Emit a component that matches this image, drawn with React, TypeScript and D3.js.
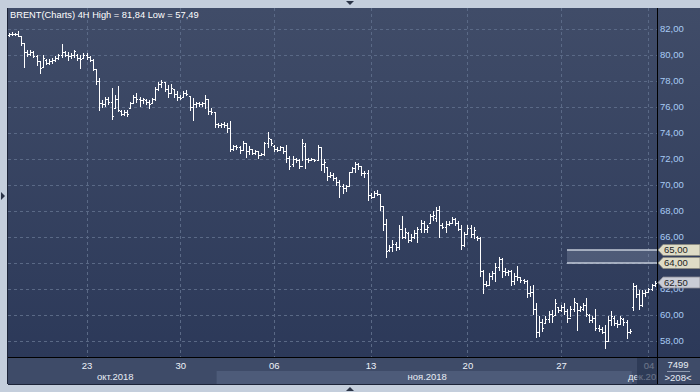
import React from 'react';
import * as d3 from 'd3';

const opens = [
  81.55, 81.65, 81.6, 81.6, 81.45, 80.9, 80.2, 80.1, 80.2, 79.95,
  79.5, 79.1, 79.6, 79.4, 79.5, 79.6, 79.75, 80.0, 80.2, 80.0,
  79.9, 80.0, 80.0, 79.8, 79.8, 80.0, 79.85, 79.6, 78.9, 78.0,
  76.3, 76.2, 76.6, 76.4, 75.9, 76.6, 75.7, 75.5, 75.6, 75.9,
  76.3, 76.8, 76.6, 76.5, 76.5, 76.4, 76.3, 76.6, 77.4, 77.8,
  77.9, 77.4, 77.1, 77.4, 77.0, 76.8, 76.8, 77.1, 76.85, 76.0,
  76.2, 76.3, 76.2, 76.3, 76.6, 75.7, 75.6, 74.7, 74.6, 74.7,
  74.6, 74.4, 72.8, 73.0, 72.9, 72.7, 73.2, 72.6, 72.8, 72.5,
  72.6, 72.3, 72.4, 73.2, 73.5, 73.0, 72.8, 72.7, 72.9, 72.6,
  72.1, 71.6, 72.0, 71.9, 71.5, 73.0, 72.0, 71.9, 72.0, 71.95,
  72.9, 71.6, 71.4, 70.7, 70.8, 70.5, 70.2, 69.9, 69.8, 69.9,
  71.0, 71.3, 71.6, 71.5, 70.9, 70.9, 69.2, 69.1, 69.4, 69.3,
  68.4, 67.0, 65.0, 65.2, 65.5, 65.2, 66.6, 66.0, 66.3, 65.8,
  66.0, 66.3, 66.6, 67.1, 66.6, 67.1, 67.6, 67.5, 68.1, 66.9,
  66.8, 67.0, 67.1, 67.4, 67.1, 66.6, 65.4, 66.2, 66.7, 66.2,
  66.0, 65.9, 63.4, 62.4, 62.3, 63.0, 63.2, 63.7, 64.3, 63.4,
  63.3, 63.4, 62.6, 63.0, 62.9, 62.7, 62.6, 61.7, 61.8, 60.5,
  58.7, 59.5, 59.4, 59.7, 60.1, 60.0, 60.6, 60.4, 60.6, 60.3,
  59.8, 60.5, 60.9, 60.4, 60.5, 60.8, 60.0, 59.6, 59.8, 59.0,
  58.9, 58.7, 58.0, 59.6, 59.8, 59.4, 59.3, 59.7, 59.5, 58.7,
  60.6, 62.2, 61.6, 60.8, 61.7, 61.8, 62.0, 62.3,
];
const highs = [
  81.7, 81.78, 81.7, 81.84, 81.5, 80.95, 80.35, 80.4, 80.3, 80.0,
  79.5, 80.0, 79.7, 79.7, 79.75, 79.9, 80.1, 80.85, 80.3, 80.2,
  80.15, 80.4, 80.1, 80.0, 80.15, 80.15, 79.9, 79.7, 78.9, 78.2,
  76.5, 76.8, 76.8, 77.5, 76.9, 77.6, 75.8, 75.8, 75.8, 76.4,
  76.9, 77.05, 76.8, 76.7, 76.6, 76.55, 76.7, 77.55, 77.95, 78.1,
  77.95, 77.7, 77.8, 77.4, 77.2, 76.9, 77.25, 77.3, 76.85, 76.7,
  76.4, 76.4, 76.35, 76.9, 76.6, 75.9, 75.6, 74.8, 74.8, 74.85,
  74.75, 74.95, 73.1, 73.1, 73.0, 73.35, 73.2, 73.0, 72.8, 72.7,
  72.6, 72.5, 73.3, 74.1, 73.5, 73.1, 72.95, 73.0, 72.9, 73.1,
  72.2, 72.2, 72.1, 72.0, 73.5, 73.2, 72.1, 72.05, 72.0, 73.05,
  72.95, 72.0, 71.4, 71.0, 70.9, 70.6, 70.4, 70.1, 70.0, 71.0,
  71.4, 71.8, 71.7, 71.5, 71.1, 71.15, 69.4, 69.5, 69.6, 69.2,
  68.4, 67.4, 65.4, 65.8, 65.6, 66.9, 67.6, 66.7, 66.4, 66.2,
  66.5, 66.8, 67.3, 67.2, 66.9, 67.8, 68.0, 68.3, 68.35, 67.1,
  67.2, 67.2, 67.55, 67.45, 67.2, 66.9, 66.4, 66.9, 66.9, 66.8,
  66.1, 66.0, 63.5, 62.6, 63.2, 63.4, 64.0, 64.5, 64.4, 63.6,
  63.5, 63.5, 63.2, 63.8, 62.95, 62.8, 62.7, 62.2, 62.3, 60.9,
  59.9, 59.7, 59.9, 60.3, 60.4, 61.2, 60.6, 60.8, 60.9, 60.5,
  60.7, 61.3, 60.9, 60.7, 60.9, 61.3, 60.1, 59.9, 60.5, 59.2,
  59.1, 59.2, 59.9, 60.3, 59.9, 59.6, 59.9, 59.8, 59.6, 58.9,
  62.45, 62.3, 61.9, 61.9, 61.9, 62.1, 62.4, 62.6,
];
const lows = [
  81.5, 81.55, 81.55, 81.45, 80.75, 79.1, 79.9, 80.0, 79.85, 79.2,
  78.65, 79.1, 79.3, 79.3, 79.35, 79.5, 79.7, 79.85, 79.9, 79.6,
  79.75, 79.85, 79.6, 79.0, 79.8, 79.7, 79.5, 78.85, 77.8, 75.8,
  76.0, 76.1, 76.2, 75.1, 75.9, 75.7, 75.4, 75.4, 75.3, 75.9,
  76.3, 76.4, 76.1, 76.3, 76.25, 75.9, 76.3, 76.55, 77.3, 77.55,
  77.2, 76.8, 77.05, 76.8, 76.55, 76.65, 76.8, 76.9, 75.8, 75.0,
  76.0, 76.1, 76.1, 75.9, 75.5, 75.5, 74.5, 74.5, 74.5, 74.5,
  74.1, 72.6, 72.7, 72.8, 72.45, 72.7, 72.15, 72.4, 72.4, 72.4,
  72.1, 72.3, 72.3, 72.95, 73.1, 72.6, 72.6, 72.7, 72.5, 71.8,
  71.2, 71.5, 71.8, 71.3, 71.9, 71.3, 71.8, 71.9, 71.85, 71.9,
  71.15, 71.0, 70.4, 70.6, 70.4, 70.0, 69.1, 69.4, 69.5, 69.9,
  71.0, 71.0, 71.2, 70.8, 70.6, 68.85, 69.0, 69.1, 69.2, 68.1,
  66.5, 64.5, 64.9, 64.9, 65.0, 65.1, 65.9, 65.9, 65.6, 65.7,
  65.9, 65.6, 66.4, 66.4, 66.4, 67.05, 67.3, 67.2, 66.0, 66.7,
  66.4, 66.9, 67.05, 66.9, 66.5, 65.1, 65.3, 66.2, 66.0, 65.9,
  65.8, 63.0, 61.7, 62.2, 62.3, 62.8, 62.6, 63.5, 62.95, 63.1,
  63.1, 62.3, 62.4, 62.7, 62.55, 62.5, 61.4, 61.5, 60.1, 58.3,
  58.4, 58.8, 59.4, 59.5, 59.5, 60.1, 60.2, 60.3, 60.1, 59.5,
  59.9, 60.3, 58.85, 60.3, 60.4, 59.9, 59.5, 59.5, 58.85, 58.8,
  58.6, 57.49, 58.0, 59.2, 59.2, 59.1, 59.4, 59.2, 58.2, 58.6,
  60.4, 61.4, 60.5, 60.7, 61.5, 61.8, 61.9, 62.2,
];
const closes = [
  81.65, 81.6, 81.62, 81.5, 80.9, 80.2, 80.1, 80.2, 79.95, 79.5,
  79.0, 79.8, 79.4, 79.55, 79.6, 79.8, 80.0, 80.2, 80.0, 79.9,
  80.0, 80.3, 79.8, 79.7, 80.0, 79.85, 79.6, 78.95, 78.0, 76.3,
  76.2, 76.6, 76.4, 75.3, 76.6, 75.8, 75.5, 75.6, 75.5, 76.3,
  76.8, 76.6, 76.5, 76.6, 76.4, 76.2, 76.6, 77.4, 77.8, 77.9,
  77.4, 77.1, 77.5, 77.0, 76.8, 76.7, 77.1, 77.0, 76.0, 76.2,
  76.3, 76.2, 76.3, 76.6, 75.7, 75.6, 74.7, 74.6, 74.7, 74.6,
  74.4, 72.8, 73.0, 72.9, 72.7, 73.2, 72.6, 72.8, 72.5, 72.6,
  72.3, 72.4, 73.2, 73.6, 73.2, 72.8, 72.7, 72.9, 72.6, 72.1,
  71.5, 72.0, 71.9, 71.5, 73.2, 72.0, 71.9, 72.0, 71.9, 72.9,
  71.6, 71.8, 70.7, 70.8, 70.5, 70.2, 69.9, 69.8, 69.9, 71.0,
  71.3, 71.6, 71.5, 70.9, 70.9, 69.2, 69.1, 69.4, 69.3, 68.4,
  67.0, 64.9, 65.2, 65.5, 65.2, 66.6, 66.0, 66.4, 65.8, 66.0,
  66.3, 66.6, 67.1, 66.6, 66.8, 67.6, 67.7, 68.1, 66.9, 66.8,
  67.0, 67.1, 67.4, 67.1, 66.6, 65.4, 66.2, 66.7, 66.2, 66.5,
  65.9, 63.4, 62.4, 62.3, 63.0, 63.2, 63.7, 64.3, 63.4, 63.3,
  63.4, 62.6, 63.0, 62.9, 62.7, 62.6, 61.7, 61.8, 60.5, 58.7,
  59.5, 59.0, 59.7, 60.1, 59.9, 60.9, 60.4, 60.6, 60.3, 59.8,
  60.5, 61.0, 60.4, 60.6, 60.8, 60.1, 59.6, 59.8, 59.0, 58.9,
  58.7, 58.0, 59.6, 59.9, 59.4, 59.3, 59.8, 59.5, 58.7, 58.8,
  62.2, 61.6, 60.8, 61.7, 61.8, 62.0, 62.3, 62.5,
];

const tickIndex = [25, 55, 85, 116, 147, 177, 205];
const tickLabels = ['23', '30', '06', '13', '20', '27', '04'];
const monthStart = [0, 67, 200];
const monthLabels = ['окт.2018', 'ноя.2018', 'дек.2018'];
const priceTicks = [58, 60, 62, 64, 66, 68, 70, 72, 74, 76, 78, 80, 82];
const levelLines = [65, 64];
const lastPrice = 62.5;
const title = 'BRENT(Charts) 4H High = 81,84 Low = 57,49';
const barCount = '7499';
const visibleBars = '>208<';

const FONT = '"Liberation Sans", Arial, sans-serif';

export default function App() {
  const W = 700, H = 392;
  const plotL = 8, plotR = 657, plotT = 8, plotB = 357, axB = 384;
  const x = d3.scaleLinear().domain([0, opens.length - 1]).range([9, 655.2]);
  const y = d3.scaleLinear().domain([58, 82]).range([341, 29]);
  const fmt = (v: number) => d3.format('.2f')(v).replace('.', ',');

  const barPath = opens.map((o, i) => {
    const fx = Math.floor(x(i));
    const cx = fx + 0.5;
    const yh = Math.round(y(highs[i]));
    const yl = Math.round(y(lows[i]));
    const yo = Math.round(y(o)) + 0.5;
    const yc = Math.round(y(closes[i])) + 0.5;
    return `M${cx},${yh}V${yl + 1}M${fx - 1},${yo}H${fx + 1}M${fx},${yc}H${fx + 2}`;
  }).join('');

  const monthEdges = monthStart.map((s, k) => {
    const a = k === 0 ? plotL : x(s - 0.5);
    const b = k === monthStart.length - 1 ? plotR : x(monthStart[k + 1] - 0.5);
    return [a, b];
  });

  const tag = (v: number) => {
    const yy = y(v);
    return `M658,${yy}L663,${yy - 5.5}H700V${yy + 5.5}H663Z`;
  };

  const axisTicks = priceTicks.filter(v => !levelLines.includes(v));

  return (
    <svg width={W} height={H} style={{ position: 'absolute', left: 0, top: 0 }} fontFamily={FONT}>
      <defs>
        <linearGradient id="bg" x1="0" y1="0" x2="0" y2="1">
          <stop offset="0" stopColor="#404c68" />
          <stop offset="1" stopColor="#2c3959" />
        </linearGradient>
        <clipPath id="axclip">
          <rect x={plotL} y={plotB} width={plotR - plotL} height={axB - plotB} />
        </clipPath>
        <clipPath id="lbl62">
          <rect x={658} y={y(lastPrice) + 5.5} width={42} height={20} />
        </clipPath>
      </defs>
      <rect x={0} y={0} width={W} height={H} fill="#c4cedc" />
      <rect x={plotL} y={plotT} width={W - plotL} height={plotB - plotT} fill="url(#bg)" />
      <rect x={plotL} y={plotB} width={W - plotL} height={axB - plotB} fill="#3e4b68" />
      {monthEdges.map(([a, b], k) => k % 2 === 1 ? (
        <rect key={k} x={a} y={371} width={b - a} height={axB - 371} fill="#4d5b79" />
      ) : null)}
      {/* grid */}
      {priceTicks.map(v => (
        <line key={v} x1={plotL} x2={plotR} y1={Math.round(y(v)) + 0.5} y2={Math.round(y(v)) + 0.5}
          stroke="#5a6986" strokeDasharray="3,3" />
      ))}
      {tickIndex.map(t => (
        <line key={t} x1={Math.floor(x(t)) + 0.5} x2={Math.floor(x(t)) + 0.5} y1={plotT} y2={plotB}
          stroke="#5a6986" strokeDasharray="3,3" />
      ))}
      {/* level band */}
      <rect x={567} y={y(levelLines[0])} width={plotR - 567} height={y(levelLines[1]) - y(levelLines[0])}
        fill="#8390aa" fillOpacity={0.35} />
      {levelLines.map(v => (
        <line key={v} x1={567} x2={plotR} y1={y(v)} y2={y(v)} stroke="#c3cbd8" strokeWidth={1.6} />
      ))}
      {/* bars */}
      <path d={barPath} stroke="#ffffff" strokeWidth={1} fill="none" shapeRendering="crispEdges" />
      {/* axis lines */}
      <line x1={plotR + 0.5} x2={plotR + 0.5} y1={plotT} y2={axB} stroke="#000" />
      <line x1={plotL} x2={W} y1={plotB + 0.5} y2={plotB + 0.5} stroke="#000" />
      <line x1={plotL - 0.5} x2={plotL - 0.5} y1={plotT} y2={axB} stroke="#1c2438" />
      <line x1={plotL} x2={W} y1={axB + 0.5} y2={axB + 0.5} stroke="#1c2438" />
      {/* right axis labels */}
      {axisTicks.map(v => (
        <text key={v} x={660} y={y(v) + 3.4} fontSize={9.5} fill="#a8cbf4"
          clipPath={Math.abs(y(v) - y(lastPrice)) < 11 ? 'url(#lbl62)' : undefined}>{fmt(v)}</text>
      ))}
      {/* tags */}
      {levelLines.map(v => (
        <g key={v}>
          <path d={tag(v)} fill="#dedcc6" stroke="#8c8c80" strokeWidth={0.8} />
          <text x={664} y={y(v) + 3.4} fontSize={9.5} fill="#1e1e1e">{fmt(v)}</text>
        </g>
      ))}
      <path d={tag(lastPrice)} fill="#c9ccd6" stroke="#8a8c96" strokeWidth={0.8} />
      <text x={664} y={y(lastPrice) + 3.4} fontSize={9.5} fill="#1e1e1e">{fmt(lastPrice)}</text>
      {/* bottom axis */}
      <g clipPath="url(#axclip)">
        {tickIndex.map((t, k) => (
          <text key={t} x={x(t)} y={369} fontSize={9.5} fill="#eef2f8" textAnchor="middle">{tickLabels[k]}</text>
        ))}
        {monthEdges.map(([a, b], k) => (
          <text key={k} x={(a + b) / 2 + 3} y={379.5} fontSize={9.5} fill="#e8edf5" textAnchor="middle">{monthLabels[k]}</text>
        ))}
        <rect x={637} y={plotB + 1} width={plotR - 637} height={axB - plotB - 1} fill="#27324e" fillOpacity={0.65} />
      </g>
      {/* bottom-right box */}
      <text x={678} y={368} fontSize={9.5} fill="#e8edf5" textAnchor="middle">{barCount}</text>
      <line x1={667} x2={690} y1={371.5} y2={371.5} stroke="#8e9ab0" />
      <text x={678} y={380.5} fontSize={9.5} fill="#e8edf5" textAnchor="middle">{visibleBars}</text>
      {/* title */}
      <text x={10} y={18.3} fontSize={9.3} fill="#ffffff">{title}</text>
      {/* frame triangles */}
      <path d="M346,1L354,1L350,5Z" fill="#2a3346" />
      <path d="M1,192L1,200L5,196Z" fill="#2a3346" />
      <path d="M346,391L354,391L350,387Z" fill="#2a3346" />
    </svg>
  );
}
